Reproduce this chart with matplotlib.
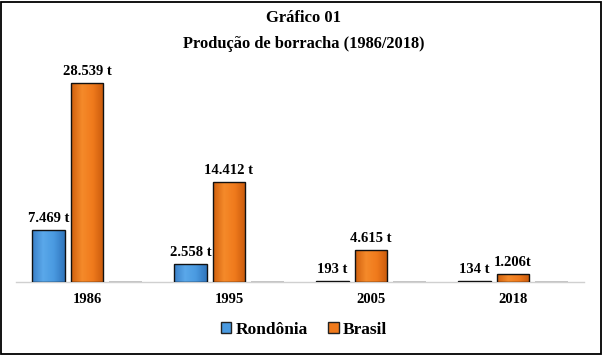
import numpy as np
import matplotlib.pyplot as plt
from matplotlib.patches import Rectangle, Patch
from matplotlib.colors import LinearSegmentedColormap

# dados
anos = ["1986", "1995", "2005", "2018"]
rondonia = [7469, 2558, 193, 134]
brasil = [28539, 14412, 4615, 1206]
rotulos_ro = ["7.469 t", "2.558 t", "193 t", "134 t"]
rotulos_br = ["28.539 t", "14.412 t", "4.615 t", "1.206t"]
outros = [0, 0, 0, 0]

plt.rcParams['font.family'] = ['Liberation Serif', 'DejaVu Serif']

fig = plt.figure(figsize=(6.08, 3.57), dpi=100)
ax = fig.add_axes([16/608, 75/357, 568/608, 209/357])

x = np.arange(len(anos))
w = 0.232
desloc = [-0.27, 0.0, 0.27]

cmap_azul = LinearSegmentedColormap.from_list("az", ["#3a80c8", "#5aa8ea", "#4a9ae0", "#3176bd"])
cmap_lar = LinearSegmentedColormap.from_list("la", ["#d0600e", "#f58a2a", "#f07a1c", "#c95a0c"])
grad = np.linspace(0, 1, 50).reshape(1, -1)


def barras(vals, d, cmap, cor):
    bs = ax.bar(x + d, vals, w, color=cor, edgecolor="#111111", linewidth=1.0, zorder=3)
    for b in bs:
        if b.get_height() > 0:
            im = ax.imshow(grad, cmap=cmap, aspect="auto", zorder=3.5,
                           extent=(b.get_x(), b.get_x() + b.get_width(), 0, b.get_height()))
            im.set_clip_path(b)
            b.set_facecolor("none")
            b.set_zorder(4)
    return bs


b_ro = barras(rondonia, desloc[0], cmap_azul, "#4a9ae0")
b_br = barras(brasil, desloc[1], cmap_lar, "#f07a1c")
ax.bar(x + desloc[2], outros, w, color="#d8d8d8", edgecolor="#bdbdbd", linewidth=1.2, zorder=3)

for b, t in zip(b_ro, rotulos_ro):
    ax.text(b.get_x() + b.get_width()/2, b.get_height() + 700, t, ha="center", va="bottom",
            fontsize=10.5, fontweight="bold")
for b, t in zip(b_br, rotulos_br):
    ax.text(b.get_x() + b.get_width()/2, b.get_height() + 700, t, ha="center", va="bottom",
            fontsize=10.5, fontweight="bold")

ax.set_xlim(-0.5, 3.5)
ax.set_ylim(0, 30000)
ax.set_yticks([])
ax.set_xticks(x)
ax.set_xticklabels(anos, fontsize=10.5, fontweight="bold")
ax.tick_params(axis="x", length=0, pad=8)
for s in ["top", "right", "left"]:
    ax.spines[s].set_visible(False)
ax.spines["bottom"].set_color("#d0d0d0")
ax.spines["bottom"].set_linewidth(1.0)

fig.text(0.5, 1 - 18/357, "Gráfico 01", ha="center", va="center", fontsize=12, fontweight="bold")
fig.text(0.5, 1 - 44/357, "Produção de borracha (1986/2018)", ha="center", va="center",
         fontsize=11.8, fontweight="bold")

alcas = [Patch(facecolor="#4a9ae0", edgecolor="#222222", label="Rondônia"),
         Patch(facecolor="#f07a1c", edgecolor="#222222", label="Brasil")]
fig.legend(handles=alcas, loc="center", bbox_to_anchor=(0.5, 27/357), ncol=2, frameon=False,
           handlelength=0.6, handleheight=0.6, handletextpad=0.25, columnspacing=1.2,
           prop={"family": ["Liberation Serif", "DejaVu Serif"], "weight": "bold", "size": 12.5})

fig.add_artist(Rectangle((1/608, 3/357), 600/608, 352/357, transform=fig.transFigure,
                         fill=False, edgecolor="black", linewidth=1.3))

fig.savefig("out.png", dpi=100)
